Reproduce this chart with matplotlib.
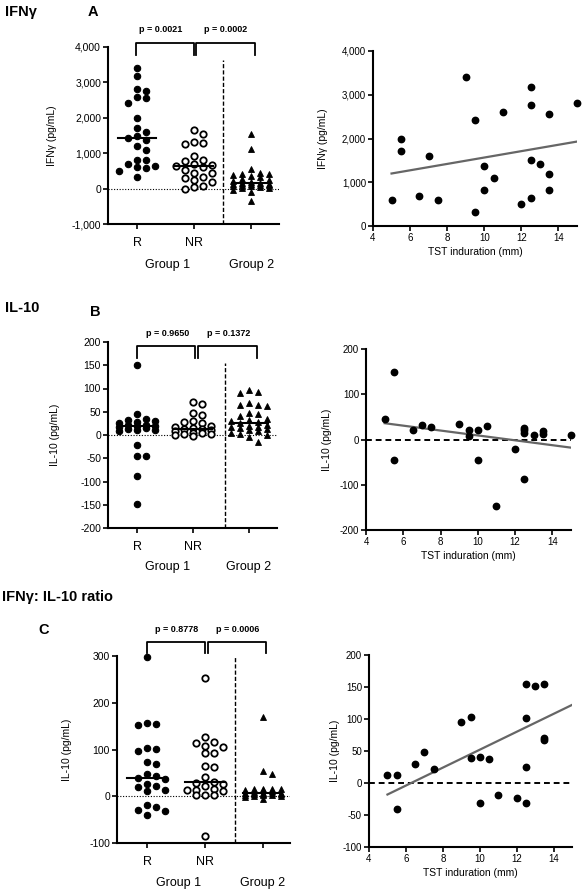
import numpy as np
import matplotlib
matplotlib.use("Agg")
import matplotlib.pyplot as plt
from matplotlib.ticker import FuncFormatter
from matplotlib.transforms import blended_transform_factory

plt.rcParams['font.family'] = ['Liberation Sans', 'DejaVu Sans']
plt.rcParams['axes.unicode_minus'] = False

# ---------------- data ---------------- #
groups = ["R", "NR", "Group 2"]

ifn_R = [3400, 3170, 2800, 2760, 2600, 2560, 2420, 2000, 1720, 1600, 1500, 1420,
         1380, 1200, 1100, 820, 820, 690, 630, 600, 590, 500, 320]
ifn_NR = [1650, 1530, 1330, 1300, 1250, 920, 800, 780, 690, 660, 650, 620, 530,
          450, 430, 320, 300, 250, 180, 60, 40, 0]
ifn_G2 = [1540, 1130, 550, 450, 420, 400, 380, 350, 320, 280, 250, 220, 200, 170,
          150, 140, 130, 120, 110, 100, 90, 80, 60, 50, 30, 10, -50, -100, -340]

il10_R = [150, 45, 35, 32, 30, 27, 25, 22, 22, 20, 20, 18, 14, 12, 10, 10, 8,
          -22, -45, -45, -88, -148]
il10_NR = [72, 67, 48, 42, 30, 28, 25, 20, 18, 15, 12, 12, 10, 8, 5, 5, 3, 2, 0, -2]
il10_G2 = [97, 93, 91, 68, 64, 64, 63, 48, 45, 40, 35, 32, 30, 28, 25, 22, 20, 18,
           18, 15, 12, 10, 8, 5, 2, 0, -5, -14]

ratio_R = [297, 157, 155, 152, 104, 102, 97, 73, 68, 48, 43, 38, 36, 27, 22, 20,
           14, 12, -18, -22, -30, -32, -40]
ratio_NR = [253, 126, 116, 114, 108, 106, 93, 92, 65, 63, 41, 31, 28, 27, 22, 15,
            13, 13, 11, 3, 2, 2, -85]
ratio_G2 = [170, 54, 47, 16, 16, 15, 15, 14, 14, 12, 10, 8, 8, 7, 6, 5, 5, 4, 3,
            2, 2, 1, 0, -2, -5]

tst_A = [5, 5.5, 5.5, 6.5, 7, 7.5, 9, 9.5, 9.5, 10, 10, 10.5, 11, 12, 12.5, 12.5,
         12.5, 12.5, 13, 13.5, 13.5, 13.5, 15]
ifn_A = [600, 2000, 1720, 690, 1600, 590, 3400, 2420, 320, 1380, 820, 1100, 2600,
         500, 3170, 2760, 1500, 630, 1420, 2560, 1200, 820, 2800]

tst_B = [5, 5.5, 5.5, 6.5, 7, 7.5, 9, 9.5, 9.5, 10, 10, 10.5, 11, 12, 12.5, 12.5,
         12.5, 12.5, 13, 13.5, 13.5, 15]
il10_B = [45, 150, -45, 22, 32, 27, 35, 22, 8, 20, -45, 30, -148, -22, 25, 20,
          14, -88, 10, 18, 12, 10]

tst_C = [5, 5.5, 5.5, 6.5, 7, 7.5, 9, 9.5, 9.5, 10, 10, 10.5, 11, 12, 12.5, 12.5,
         12.5, 12.5, 13, 13.5, 13.5, 13.5]
ratio_C = [13, 13, -40, 30, 48, 22, 95, 103, 39, 41, -32, 37, -18, -24, 155, 101,
           25, -32, 151, 154, 70, 67]

# regression lines: value at x=5 and at x=15
fit_x = [5, 15]
fit_A = [1200, 1930]
fit_B = [36, -18]
fit_C = [-18, 122]

p_A = ["p = 0.0021", "p = 0.0002"]
p_B = ["p = 0.9650", "p = 0.1372"]
p_C = ["p = 0.8778", "p = 0.0006"]

# ---------------- layout helpers ---------------- #
W, H = 582, 893
fig = plt.figure(figsize=(W / 100, H / 100), dpi=100)


def box(l, t, r, b):
    return [l / W, 1 - b / H, (r - l) / W, (b - t) / H]


def ftext(x, y, s, **kw):
    fig.text(x / W, 1 - y / H, s, **kw)


def comma(v, pos):
    return "{:,.0f}".format(v)


def style(ax, lsize=7):
    for s in ["top", "right"]:
        ax.spines[s].set_visible(False)
    for s in ["left", "bottom"]:
        ax.spines[s].set_linewidth(1.5)
    ax.tick_params(direction="out", length=3.5, width=1.2, labelsize=lsize, pad=1.5)


def swarm(vals, ppu_y, ppu_x, d=7.0, step=9.0, kmax=2):
    # simple column-scatter layout, in pixels; dense rows are allowed to overlap
    vals = np.asarray(vals, float)
    offs = np.zeros(len(vals))
    placed = []
    cands = [0.0]
    for k in range(1, kmax + 1):
        cands += [k * step, -k * step]
    for i in np.argsort(-vals):
        y = vals[i] * ppu_y
        best, best_d = 0.0, -1
        for x in cands:
            md = min([np.hypot(x - px, y - py) for px, py in placed] + [1e9])
            if md >= d:
                best = x
                break
            if md > best_d:
                best, best_d = x, md
        placed.append((best, y))
        offs[i] = best / ppu_x
    return offs


def column_panel(px_box, xmin, xmax, ylim, yticks, data, dash_x, dash_top,
                 brackets, ptexts, ptext_x, ylabel, ylab_x, lab_y, grp_y, grp_x):
    l, t, r, b = px_box
    ax = fig.add_axes(box(l, t, r, b))
    style(ax, 7.5)
    ax.set_xlim(xmin, xmax)
    ax.set_ylim(*ylim)
    ax.set_yticks(yticks)
    ax.yaxis.set_major_formatter(FuncFormatter(comma))
    ax.set_xticks([0, 1, 2])
    ax.set_xticklabels([])
    ppu_y = (b - t) / (ylim[1] - ylim[0])
    ppu_x = (r - l) / (xmax - xmin)
    styles = [dict(marker="o", mfc="black", mec="black", ms=4.6, mew=0.8),
              dict(marker="o", mfc="white", mec="black", ms=4.6, mew=1.3),
              dict(marker="^", mfc="black", mec="black", ms=4.6, mew=0.6)]
    for k, (vals, st) in enumerate(zip(data, styles)):
        offs = swarm(vals, ppu_y, ppu_x)
        ax.plot(k + offs, vals, ls="none", clip_on=False, zorder=3, **st)
        med = np.median(vals)
        ax.plot([k - 0.34, k + 0.34], [med, med], color="black", lw=1.5, zorder=4)
    ax.axhline(0, color="black", lw=0.8, ls=(0, (1, 1.5)), zorder=1)
    bt = blended_transform_factory(ax.transData, fig.transFigure)
    ytop = 1 - dash_top / H
    fig.add_artist(plt.Line2D([dash_x, dash_x], [1 - b / H, ytop], transform=bt,
                              color="black", lw=1.0, ls=(0, (3, 1.5))))
    for (x0, x1, ptop, pbot) in brackets:
        fig.add_artist(plt.Line2D([x0, x0, x1, x1],
                                  [1 - pbot / H, 1 - ptop / H, 1 - ptop / H, 1 - pbot / H],
                                  transform=bt, color="black", lw=1.3))
    for s, (x, y) in zip(ptexts, ptext_x):
        fig.text(x, 1 - y / H, s, transform=bt, ha="center", va="center",
                 fontsize=6.5, fontweight="bold")
    for k, s in enumerate(["R", "NR"]):
        fig.text(k, 1 - lab_y / H, s, transform=bt, ha="center", va="center", fontsize=9)
    for s, x in zip(["Group 1", "Group 2"], grp_x):
        fig.text(x, 1 - grp_y / H, s, transform=bt, ha="center", va="center", fontsize=9)
    ax.set_ylabel(ylabel, fontsize=7.5)
    ax.yaxis.set_label_coords((ylab_x - l) / (r - l), 0.5)
    return ax


def scatter_panel(px_box, ylim, yticks, xs, ys, fit, ylabel, ylab_x, zero_line):
    l, t, r, b = px_box
    ax = fig.add_axes(box(l, t, r, b))
    style(ax)
    ax.set_xlim(4, 15)
    ax.set_ylim(*ylim)
    ax.set_xticks([4, 6, 8, 10, 12, 14])
    ax.set_yticks(yticks)
    ax.yaxis.set_major_formatter(FuncFormatter(comma))
    ax.plot(xs, ys, "o", color="black", ms=4.6, clip_on=False, zorder=3)
    ax.plot(fit_x, fit, color="#666666", lw=1.6, zorder=2)
    if zero_line:
        ax.axhline(0, color="black", lw=1.4, ls=(0, (3, 2)), zorder=1)
    ax.set_xlabel("TST induration (mm)", fontsize=7.5, labelpad=3)
    ax.set_ylabel(ylabel, fontsize=7.5)
    ax.yaxis.set_label_coords((ylab_x - l) / (r - l), 0.5)
    return ax


# ---------------- panel A ---------------- #
column_panel((108, 47, 279, 224), -0.51, 2.49, (-1000, 4000),
             [-1000, 0, 1000, 2000, 3000, 4000], [ifn_R, ifn_NR, ifn_G2],
             1.51, 60,
             [(-0.02, 1.0, 43, 55), (1.035, 2.07, 43, 55)],
             p_A, [(0.42, 30), (1.56, 30)],
             "IFNγ (pg/mL)", 57, 243, 265, [0.53, 2.0])
scatter_panel((373, 51, 577, 226), (0, 4000), [0, 1000, 2000, 3000, 4000],
              tst_A, ifn_A, fit_A, "IFNγ (pg/mL)", 328, False)

# ---------------- panel B ---------------- #
column_panel((108, 342, 277, 528), -0.52, 2.5, (-200, 200),
             list(range(-200, 201, 50)), [il10_R, il10_NR, il10_G2],
             1.57, 363,
             [(0.0, 1.04, 346, 358), (1.09, 2.14, 346, 358)],
             p_B, [(0.54, 333), (1.63, 333)],
             "IL-10 (pg/mL)", 60, 547, 567, [0.55, 2.0])
scatter_panel((366, 349, 571, 530), (-200, 200), [-200, -100, 0, 100, 200],
              tst_B, il10_B, fit_B, "IL-10 (pg/mL)", 332, True)

# ---------------- panel C ---------------- #
column_panel((117, 656, 290, 843), -0.52, 2.47, (-100, 300),
             [-100, 0, 100, 200, 300], [ratio_R, ratio_NR, ratio_G2],
             1.52, 657,
             [(0.0, 1.0, 642, 653), (1.05, 2.06, 642, 653)],
             p_C, [(0.51, 630), (1.57, 630)],
             "IL-10 (pg/mL)", 72, 862, 883, [0.55, 2.0])
scatter_panel((369, 655, 572, 847), (-100, 200), [-100, -50, 0, 50, 100, 150, 200],
              tst_C, ratio_C, fit_C, "IL-10 (pg/mL)", 340, True)

# ---------------- titles ---------------- #
ftext(5, 12, "IFNγ", fontsize=10.5, fontweight="bold", va="center")
ftext(88, 12, "A", fontsize=10.5, fontweight="bold", va="center")
ftext(5, 308, "IL-10", fontsize=10.5, fontweight="bold", va="center")
ftext(90, 312, "B", fontsize=10.5, fontweight="bold", va="center")
ftext(2, 597, "IFNγ: IL-10 ratio", fontsize=10.5, fontweight="bold", va="center")
ftext(38, 630, "C", fontsize=10.5, fontweight="bold", va="center")

fig.savefig("out.png", dpi=100)
